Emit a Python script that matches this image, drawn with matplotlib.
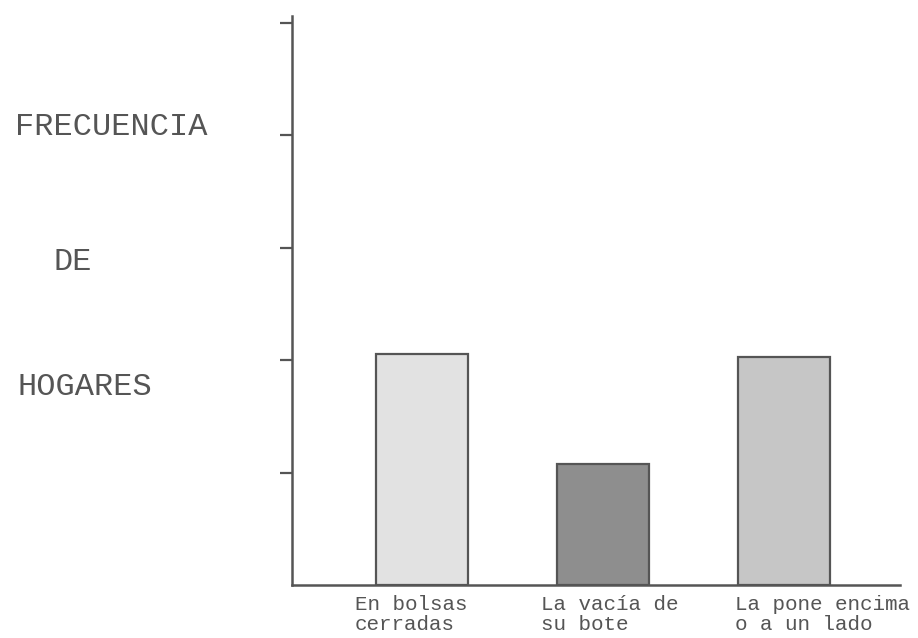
import numpy as np
import matplotlib.pyplot as plt
import matplotlib.transforms as mtransforms

# Datos
categorias = ["En bolsas\ncerradas", "La vacía de\nsu bote", "La pone encima\no a un lado"]
frecuencia = [2.05, 1.08, 2.03]
colores = ["#e2e2e2", "#8e8e8e", "#c6c6c6"]

plt.rcParams['font.family'] = ['Liberation Mono', 'DejaVu Sans Mono']

fig = plt.figure(figsize=(9.18, 6.38), dpi=100)
ax = fig.add_axes([292 / 918, 1 - 585 / 638, (900 - 292) / 918, (585 - 16) / 638])

x = np.arange(len(categorias))
ax.bar(x, frecuencia, width=0.51, color=colores, edgecolor="#555555", linewidth=1.6, zorder=3)

ax.set_xlim(-0.72, 2.64)
ax.set_ylim(0, 5.06)

ax.spines['top'].set_visible(False)
ax.spines['right'].set_visible(False)
for s in ['left', 'bottom']:
    ax.spines[s].set_color("#555555")
    ax.spines[s].set_linewidth(1.8)

ax.set_yticks([1, 2, 3, 4, 5])
ax.set_yticklabels([])
ax.tick_params(axis='y', direction='out', length=9, width=1.6, color="#555555")

ax.set_xticks(x)
ax.set_xticklabels(categorias, fontsize=15, color="#555555", ha='center', multialignment='left', linespacing=1.1)
ax.tick_params(axis='x', length=0, pad=7)

# pequenos desplazamientos de las etiquetas como en el original
desplaz = [-11, 7, 38]
for lab, dx in zip(ax.get_xticklabels(), desplaz):
    lab.set_transform(lab.get_transform() + mtransforms.ScaledTranslation(dx / 100, 0, fig.dpi_scale_trans))

# etiqueta del eje y en tres partes
fig.text(15 / 918, 1 - 127 / 638, "FRECUENCIA", fontsize=23, color="#555555", va='center')
fig.text(53 / 918, 1 - 262 / 638, "DE", fontsize=23, color="#555555", va='center')
fig.text(17 / 918, 1 - 387 / 638, "HOGARES", fontsize=23, color="#555555", va='center')

plt.savefig("out.png", dpi=100)
